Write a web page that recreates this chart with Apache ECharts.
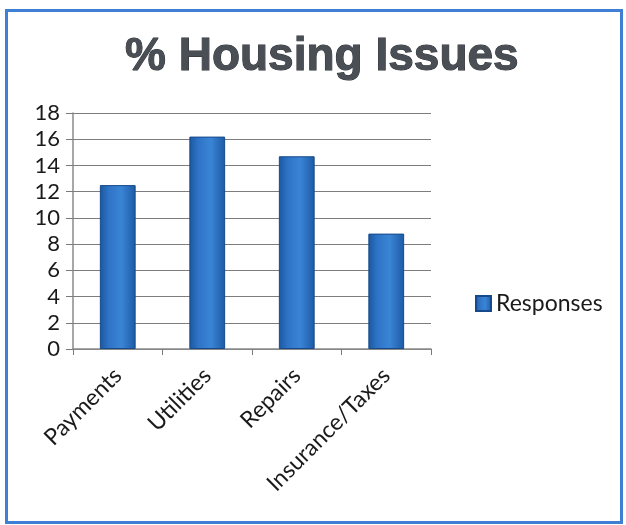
<!DOCTYPE html>
<html>
<head>
<meta charset="utf-8">
<script src="https://cdn.jsdelivr.net/npm/echarts@6/dist/echarts.min.js"></script>
<style>
  html, body { margin: 0; padding: 0; background: #ffffff; }
  #frame {
    position: absolute; left: 5px; top: 9px; width: 612px; height: 509px;
    border: 3px solid #3f80d4; box-sizing: content-box;
  }
  #chart { position: absolute; left: 0; top: 0; width: 626px; height: 525px; }
</style>
</head>
<body>
<div id="frame"></div>
<div id="chart"></div>
<script>
// Share of respondents reporting each housing issue
const categories = ['Payments', 'Utilities', 'Repairs', 'Insurance/Taxes'];
const responses = [12.5, 16.2, 14.7, 8.8];
const yTicks = [0, 2, 4, 6, 8, 10, 12, 14, 16, 18];

const barFill = new echarts.graphic.LinearGradient(0, 0, 1, 0, [
  { offset: 0, color: '#1b57a0' },
  { offset: 0.25, color: '#2f74c6' },
  { offset: 0.6, color: '#3a84d6' },
  { offset: 1, color: '#1c5aa4' }
]);

const chart = echarts.init(document.getElementById('chart'), null, { renderer: 'canvas' });
chart.setOption({
  backgroundColor: 'transparent',
  animation: false,
  title: {
    text: '% Housing Issues',
    left: 120,
    top: 29,
    textStyle: {
      fontFamily: 'Liberation Sans, Arial, sans-serif',
      fontWeight: 'bold',
      fontSize: 46,
      color: '#4a4f55',
      textBorderColor: '#2a2e33',
      textBorderWidth: 1
    }
  },
  legend: {
    data: ['Responses'],
    left: 470,
    top: 287,
    itemWidth: 15,
    itemHeight: 15,
    itemGap: 6,
    icon: 'rect',
    textStyle: { fontFamily: 'Lato, sans-serif', fontSize: 23, color: '#1a1a1a' }
  },
  grid: { left: 73, right: 195, top: 113, bottom: 176, containLabel: false },
  xAxis: {
    type: 'category',
    data: categories,
    boundaryGap: true,
    axisLine: { show: true, lineStyle: { color: '#8a8a8a', width: 1.5 } },
    axisTick: { show: true, alignWithLabel: false, length: 6, lineStyle: { color: '#7a7a7a' } },
    axisLabel: {
      rotate: 45,
      margin: 23,
      interval: 0,
      fontFamily: 'Lato, sans-serif',
      fontSize: 23,
      color: '#1a1a1a'
    }
  },
  yAxis: {
    type: 'value',
    min: yTicks[0],
    max: yTicks[yTicks.length - 1],
    interval: yTicks[1] - yTicks[0],
    axisLine: { show: true, lineStyle: { color: '#8a8a8a', width: 1.5 } },
    axisTick: { show: true, length: 7, lineStyle: { color: '#7a7a7a' } },
    splitLine: { show: true, lineStyle: { color: '#7d7d7d', width: 1.2 } },
    axisLabel: {
      margin: 13,
      fontFamily: 'Lato, sans-serif',
      fontSize: 22,
      color: '#1a1a1a'
    }
  },
  series: [{
    name: 'Responses',
    type: 'bar',
    data: responses,
    barWidth: '40%',
    itemStyle: {
      color: barFill,
      borderColor: '#164a8a',
      borderWidth: 1
    },
    emphasis: { disabled: true }
  }]
});
</script>
</body>
</html>
